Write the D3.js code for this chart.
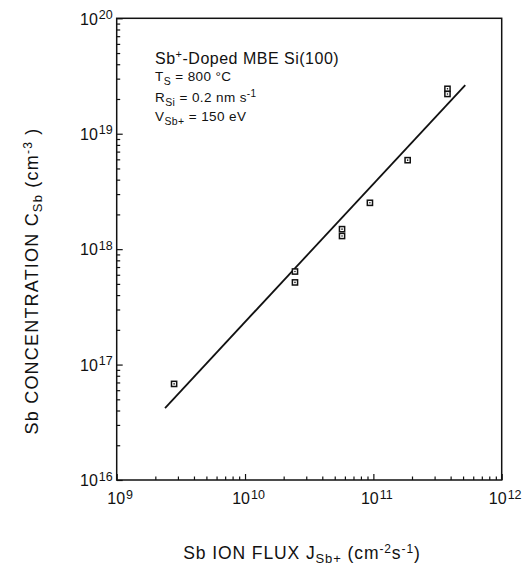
<!DOCTYPE html>
<html>
<head>
<meta charset="utf-8">
<script src="https://cdnjs.cloudflare.com/ajax/libs/d3/7.8.5/d3.min.js"></script>
<style>
  body { margin: 0; background: #fff; }
  svg { font-family: "Liberation Sans", Arial, sans-serif; }
  .axis path { stroke: none; }
  .axis line { stroke: #111; stroke-width: 1.2; }
  .axis text { font-size: 16px; fill: #111; }
</style>
</head>
<body>
<svg class="chart" width="526" height="573"></svg>
<script>
// measured points: Sb ion flux (cm^-2 s^-1) vs Sb concentration (cm^-3)
const flux = [2.8e9, 2.45e10, 2.45e10, 5.7e10, 5.7e10, 9.4e10, 1.85e11, 3.78e11, 3.78e11];
const conc = [6.8e16, 6.4e17, 5.15e17, 1.49e18, 1.3e18, 2.52e18, 5.9e18, 2.45e19, 2.21e19];

// fitted line end points
const fitFlux = [2.38e9, 5.2e11];
const fitConc = [4.2e16, 2.64e19];

const xDecades = [9, 10, 11, 12];
const yDecades = [16, 17, 18, 19, 20];

const svg = d3.select('.chart');
const margin = { top: 18.3, left: 116.7, right: 24.3, bottom: 93 };
const width = 526 - margin.left - margin.right;
const height = 573 - margin.top - margin.bottom;

const chart = svg.append('g')
  .attr('transform', `translate(${margin.left}, ${margin.top})`);

const xScale = d3.scaleLog().domain([1e9, 1e12]).range([0, width]);
const yScale = d3.scaleLog().domain([1e16, 1e20]).range([height, 0]);

// minor ticks = 2..9 within each decade
const minorTicks = (decades) => {
  const out = [];
  decades.slice(0, -1).forEach(d => {
    for (let k = 2; k <= 9; k++) out.push(k * Math.pow(10, d));
  });
  return out;
};

const supLabel = (sel, decades) => {
  sel.selectAll('text').each(function (v, i) {
    const t = d3.select(this).text('');
    t.append('tspan').text('10');
    t.append('tspan')
      .attr('dy', '-0.45em')
      .attr('dx', '1')
      .attr('font-size', '12.5px')
      .text(decades[i]);
  });
};

// x axis: ticks pointing up into the plot
chart.append('g')
  .attr('class', 'axis')
  .attr('transform', `translate(0, ${height})`)
  .call(d3.axisBottom(xScale).tickValues(minorTicks(xDecades)).tickSize(-3.5).tickFormat(''));

chart.append('g')
  .attr('class', 'axis axis-x')
  .attr('transform', `translate(0, ${height})`)
  .call(d3.axisBottom(xScale)
    .tickValues(xDecades.map(d => Math.pow(10, d)))
    .tickSize(-6).tickPadding(13).tickFormat(''))
  .call(g => supLabel(g, xDecades))
  .selectAll('text')
  .attr('dx', '3');

// y axis: ticks pointing right into the plot
chart.append('g')
  .attr('class', 'axis')
  .call(d3.axisLeft(yScale).tickValues(minorTicks(yDecades)).tickSize(-3.5).tickFormat(''));

chart.append('g')
  .attr('class', 'axis axis-y')
  .call(d3.axisLeft(yScale)
    .tickValues(yDecades.map(d => Math.pow(10, d)))
    .tickSize(-6).tickPadding(4).tickFormat(''))
  .call(g => supLabel(g, yDecades))
  .selectAll('text')
  .attr('dy', '0.36em');

// frame
chart.append('rect')
  .attr('width', width)
  .attr('height', height)
  .attr('fill', 'none')
  .attr('stroke', '#111')
  .attr('stroke-width', 1.5);

// fit line
const fit = fitFlux.map((f, i) => [f, fitConc[i]]);
chart.append('path')
  .datum(fit)
  .attr('fill', 'none')
  .attr('stroke', '#111')
  .attr('stroke-width', 1.8)
  .attr('d', d3.line().x(d => xScale(d[0])).y(d => yScale(d[1])));

// data markers: small open squares with a dot
const pts = flux.map((f, i) => ({ f, c: conc[i] }));
const marks = chart.selectAll('.pt')
  .data(pts)
  .enter()
  .append('g')
  .attr('class', 'pt')
  .attr('transform', d => `translate(${xScale(d.f)}, ${yScale(d.c)})`);
marks.append('rect')
  .attr('x', -2.6).attr('y', -2.6)
  .attr('width', 5.2).attr('height', 5.2)
  .attr('fill', '#fff')
  .attr('stroke', '#111')
  .attr('stroke-width', 1.5);
marks.append('circle')
  .attr('r', 0.8)
  .attr('fill', '#111');

// annotation block
const note = svg.append('g').attr('fill', '#111');
const l1 = note.append('text').attr('x', 155).attr('y', 64)
  .attr('font-size', '16px').attr('letter-spacing', '0.5px');
l1.append('tspan').text('Sb');
l1.append('tspan').attr('dy', -6).attr('font-size', '11px').text('+');
l1.append('tspan').attr('dy', 6).text('-Doped MBE Si(100)');

const small = (y) => note.append('text').attr('x', 155).attr('y', y)
  .attr('font-size', '13.5px').attr('letter-spacing', '0.4px');

const l2 = small(81);
l2.append('tspan').text('T');
l2.append('tspan').attr('dy', 4).attr('font-size', '10.5px').text('S');
l2.append('tspan').attr('dy', -4).text(' = 800 °C');

const l3 = small(101.5);
l3.append('tspan').text('R');
l3.append('tspan').attr('dy', 4).attr('font-size', '10.5px').text('Si');
l3.append('tspan').attr('dy', -4).text(' = 0.2 nm s');
l3.append('tspan').attr('dy', -5).attr('font-size', '10px').text('-1');

const l4 = small(121);
l4.append('tspan').text('V');
l4.append('tspan').attr('dy', 4).attr('font-size', '10.5px').text('Sb+');
l4.append('tspan').attr('dy', -4).text(' = 150 eV');

// x title
const xt = svg.append('text')
  .attr('x', 302).attr('y', 559)
  .attr('text-anchor', 'middle')
  .attr('font-size', '17.5px')
  .attr('letter-spacing', '0.9px')
  .attr('fill', '#111');
xt.append('tspan').text('Sb ION FLUX  J');
xt.append('tspan').attr('dy', 4).attr('font-size', '13px').text('Sb+');
xt.append('tspan').attr('dy', -4).text(' (cm');
xt.append('tspan').attr('dy', -6).attr('font-size', '12px').text('-2');
xt.append('tspan').attr('dy', 6).text('s');
xt.append('tspan').attr('dy', -6).attr('font-size', '12px').text('-1');
xt.append('tspan').attr('dy', 6).text(')');

// y title
const yt = svg.append('text')
  .attr('transform', 'translate(38, 281) rotate(-90)')
  .attr('text-anchor', 'middle')
  .attr('font-size', '18px')
  .attr('letter-spacing', '1.2px')
  .attr('fill', '#111');
yt.append('tspan').text('Sb CONCENTRATION  C');
yt.append('tspan').attr('dy', 4).attr('font-size', '13px').text('Sb');
yt.append('tspan').attr('dy', -4).text(' (cm');
yt.append('tspan').attr('dy', -6).attr('font-size', '12px').text('-3');
yt.append('tspan').attr('dy', 6).text(' )');
</script>
</body>
</html>
